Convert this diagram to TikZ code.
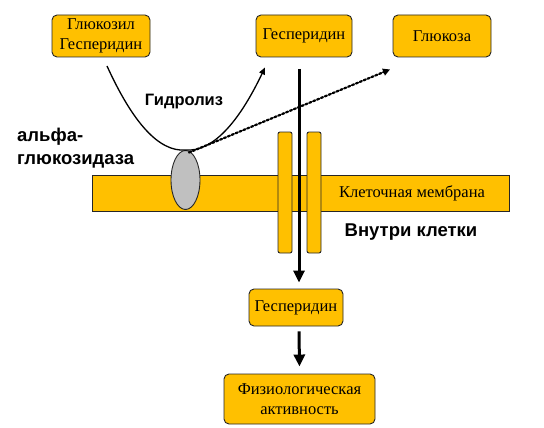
\documentclass[tikz,border=0pt]{standalone}
\usepackage{fontspec}
\setmainfont{Liberation Serif}
\setsansfont{Liberation Sans}
\usetikzlibrary{arrows.meta,shapes.geometric}
\definecolor{gold}{HTML}{FFC000}
\definecolor{enzgray}{HTML}{C0C0C0}
\begin{document}
\begin{tikzpicture}[x=1pt,y=-1pt,>=Triangle,
  box/.style={draw=black!85,line width=0.9pt,fill=gold,rounded corners=5pt,
    align=center,font=\rmfamily\fontsize{16.5}{20}\selectfont,inner sep=2pt},
  lbl/.style={font=\sffamily\bfseries\fontsize{18.5}{23}\selectfont,align=left,inner sep=0pt}]
\useasboundingbox (0,0) rectangle (544,428);
% boxes
\node[box,minimum width=98pt,minimum height=42pt] (glhes) at (101,36) {Глюкозил\\Гесперидин};
\node[box,minimum width=96pt,minimum height=42pt] (hes) at (304,36) {Гесперидин};
\node[box,minimum width=98pt,minimum height=42pt] (glu) at (442,36) {Глюкоза};
% membrane and channel
\draw[draw=black!85,line width=0.9pt,fill=gold] (92,175) rectangle (509,211);
\node[font=\rmfamily\fontsize{16.5}{20}\selectfont] (mem) at (412,193) {Клеточная мембрана};
\draw[draw=black!85,line width=0.9pt,fill=gold,rounded corners=2pt] (278,132) rectangle (292,253);
\draw[draw=black!85,line width=0.9pt,fill=gold,rounded corners=2pt] (307,132) rectangle (321,253);
\node[draw=black!85,line width=0.9pt,fill=enzgray,ellipse,minimum width=29pt,minimum height=59pt,inner sep=0pt] (enz) at (185.5,180) {};
% labels
\node[lbl,font=\sffamily\bfseries\fontsize{16.5}{20}\selectfont] (hyd) at (184,102) {Гидролиз};
\node[lbl,anchor=west] (alpha) at (17,148) {альфа-\\глюкозидаза};
\node[lbl] (inside) at (411,232) {Внутри клетки};
% lower boxes
\node[box,minimum width=94pt,minimum height=37pt] (hes2) at (296,307.5) {Гесперидин};
\node[box,minimum width=151pt,minimum height=50pt] (phys) at (299.5,399) {Физиологическая\\активность};
% arrows
\coordinate (cstart) at (107,66);
\coordinate (ctop) at (299,69);
\draw[line width=1.3pt,->,>={Triangle[length=7pt,width=6pt]}] (cstart) .. controls (133,123) and (159,152) .. (enz.north) .. controls (212,152) and (238,124) .. ([xshift=-39pt,yshift=-10pt]hes.south);
\draw[line width=2.2pt,dotted,line cap=round,->,>={Triangle[length=7pt,width=7pt]}] ([xshift=3.5pt,yshift=-2.5pt]enz.north) -- ([xshift=-52pt,yshift=-12pt]glu.south);
\draw[line width=3pt,->,>={Triangle[length=12pt,width=11pt]}] (ctop) -- ([xshift=3pt,yshift=6pt]hes2.north);
\draw[line width=3pt,->,>={Triangle[length=12pt,width=11pt]}] ([xshift=3pt,yshift=-5pt]hes2.south) -- ([yshift=7pt]phys.north);
\end{tikzpicture}
\end{document}
